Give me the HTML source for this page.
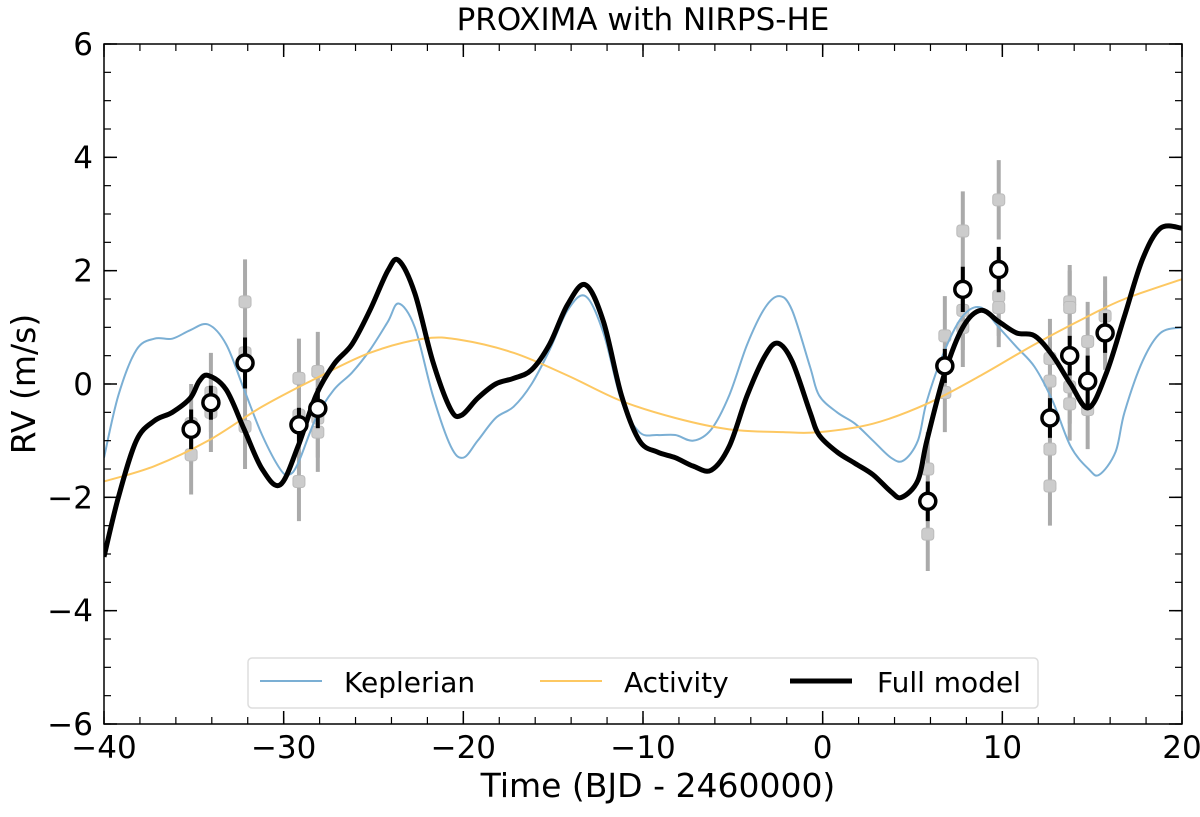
<!DOCTYPE html>
<html><head><meta charset="utf-8"><style>
body{margin:0;background:#fff}
svg text{font-family:"DejaVu Sans","Liberation Sans",sans-serif;fill:#000}
</style></head><body>
<svg id="chart" width="1200" height="812" viewBox="0 0 1200 812" xmlns="http://www.w3.org/2000/svg">
<text x="643" y="30" font-size="31" text-anchor="middle">PROXIMA with NIRPS-HE</text>
<g id="plot"></g>
<text x="658" y="797" font-size="33" text-anchor="middle">Time (BJD - 2460000)</text>
<text transform="translate(35,384) rotate(-90)" font-size="33" text-anchor="middle">RV (m/s)</text>
</svg>
<script>
const kepX=[-40,-39.2,-38.2,-37.2,-36.2,-35.2,-34.2,-33.2,-32.2,-31.2,-30.2,-29.7,-29.2,-28.2,-27.2,-26.2,-25.2,-24.2,-23.6,-22.7,-21.7,-20.7,-20,-19.2,-18.2,-17.2,-16.2,-15.2,-14.2,-13.2,-12.2,-11.2,-10.2,-9.2,-8.2,-7.2,-6.2,-5.2,-4.2,-3.2,-2.4,-1.7,-0.7,-0.2,0.8,1.8,2.8,3.8,4.5,5.3,5.8,6.8,7.8,8.8,9.8,10.8,11.8,12.8,13.8,14.8,15.4,16.3,16.8,17.8,18.8,20];
const kepY=[-1.3,-0.2,0.6,0.8,0.8,0.95,1.05,0.7,-0.1,-0.9,-1.5,-1.6,-1.4,-0.6,-0.1,0.2,0.6,1.1,1.42,1.0,-0.2,-1.1,-1.3,-1.0,-0.6,-0.4,0,0.6,1.3,1.55,0.9,-0.3,-0.85,-0.9,-0.9,-1.0,-0.8,-0.2,0.7,1.35,1.55,1.3,0.3,-0.2,-0.5,-0.7,-1.0,-1.3,-1.35,-1.0,-0.3,0.6,1.2,1.35,1.0,0.65,0.3,-0.3,-1.1,-1.5,-1.6,-1.2,-0.5,0.4,0.9,1.0];
const actX=[-40,-37.2,-34.2,-31.2,-28.2,-25.2,-22.2,-20.2,-17.2,-14.2,-11.2,-8.2,-5.2,-2.2,-0.2,2.8,5.8,8.8,11.8,14.8,16.8,20];
const actY=[-1.72,-1.45,-1.0,-0.4,0.1,0.55,0.8,0.78,0.55,0.15,-0.3,-0.6,-0.8,-0.85,-0.85,-0.7,-0.35,0.15,0.7,1.2,1.5,1.85];
const fullX=[-40,-39.2,-38.2,-37.2,-36.2,-35.2,-34.7,-34.2,-33.2,-32.2,-31.2,-30.2,-29.2,-28.2,-27.2,-26.2,-25.2,-24.2,-23.6,-22.7,-21.7,-20.7,-20.1,-19.2,-18.2,-17.2,-16.2,-15.2,-14.2,-13.2,-12.2,-11.2,-10.2,-9.2,-8.2,-7.2,-6.2,-5.2,-4.2,-3.2,-2.5,-1.7,-0.7,-0.2,0.8,1.8,2.8,3.8,4.4,5.3,5.8,6.8,7.8,8.8,9.8,10.8,11.8,12.8,13.8,14.8,15.8,16.8,17.8,18.8,20];
const fullY=[-3.05,-2.0,-1.0,-0.65,-0.5,-0.25,0.05,0.15,-0.1,-0.8,-1.5,-1.78,-1.1,-0.2,0.35,0.7,1.3,2.0,2.18,1.6,0.4,-0.45,-0.55,-0.25,0,0.1,0.25,0.7,1.4,1.75,1.1,-0.2,-1.0,-1.2,-1.3,-1.45,-1.52,-1.1,-0.2,0.5,0.72,0.4,-0.5,-0.9,-1.2,-1.4,-1.6,-1.9,-2.0,-1.7,-1.0,0.2,1.0,1.3,1.1,0.9,0.85,0.5,0.0,-0.42,0.2,1.2,2.2,2.75,2.75];
const binT=[-35.15,-34.05,-32.15,-29.15,-28.1,5.85,6.8,7.8,9.8,12.65,13.75,14.75,15.72];
const binRV=[-0.8,-0.33,0.37,-0.72,-0.43,-2.07,0.32,1.67,2.02,-0.6,0.5,0.05,0.9];
const binErr=[0.35,0.3,0.45,0.3,0.35,0.35,0.3,0.4,0.4,0.35,0.35,0.45,0.35];
const rawT=[-35.15,-35.15,-34.05,-34.05,-32.15,-32.15,-32.15,-29.15,-29.15,-29.15,-28.1,-28.1,-28.1,5.85,5.85,6.8,6.8,7.8,7.8,7.8,9.8,9.8,9.8,12.65,12.65,12.65,12.65,13.75,13.75,13.75,13.75,14.75,14.75,15.72,15.72];
const rawRV=[-0.7,-1.25,-0.15,-0.5,1.45,0.55,-0.75,0.1,-1.72,-0.55,0.22,-0.85,-0.6,-1.5,-2.65,0.85,-0.15,2.7,1.3,1.0,3.25,1.55,1.35,0.45,0.05,-1.15,-1.8,1.45,1.35,-0.05,-0.35,0.75,-0.45,1.2,0.95];
const rawErr=[0.7,0.7,0.7,0.7,0.75,0.75,0.75,0.7,0.7,0.7,0.7,0.7,0.7,0.65,0.65,0.7,0.7,0.7,0.7,0.7,0.7,0.7,0.7,0.7,0.7,0.7,0.7,0.65,0.65,0.65,0.65,0.7,0.7,0.7,0.7];
const xTicks=[-40,-30,-20,-10,0,10,20];
const yTicks=[-6,-4,-2,0,2,4,6];
const xTickLabels=["\u221240","\u221230","\u221220","\u221210","0","10","20"];
const yTickLabels=["\u22126","\u22124","\u22122","0","2","4","6"];

const L=104,R=1182,T=44,B=724;
const sx=v=>L+(v+40)/60*(R-L);
const sy=v=>B-(v+6)/12*(B-T);
const NS="http://www.w3.org/2000/svg";
const plot=document.getElementById('plot');
function mk(tag,attrs,parent){const e=document.createElementNS(NS,tag);for(const k in attrs)e.setAttribute(k,attrs[k]);(parent||plot).appendChild(e);return e;}
function smooth(xs,ys){const p=xs.map((x,i)=>[sx(x),sy(ys[i])]);let d=`M${p[0][0]},${p[0][1]}`;
for(let i=0;i<p.length-1;i++){const p0=p[Math.max(i-1,0)],p1=p[i],p2=p[i+1],p3=p[Math.min(i+2,p.length-1)];
const c1=[p1[0]+(p2[0]-p0[0])/6,p1[1]+(p2[1]-p0[1])/6],c2=[p2[0]-(p3[0]-p1[0])/6,p2[1]-(p3[1]-p1[1])/6];
d+=`C${c1[0]},${c1[1]} ${c2[0]},${c2[1]} ${p2[0]},${p2[1]}`;}return d;}
const defs=mk('defs',{});const cp=mk('clipPath',{id:'clip'},defs);mk('rect',{x:L,y:T,width:R-L,height:B-T},cp);
const g=mk('g',{'clip-path':'url(#clip)'});


rawT.forEach((t,i)=>{
 const l=mk('line',{x1:sx(t),x2:sx(t),y1:sy(rawRV[i]-rawErr[i]),y2:sy(rawRV[i]+rawErr[i]),stroke:'#aaa','stroke-width':4},g);
 
 
});
rawT.forEach((t,i)=>{
 const r=mk('rect',{x:sx(t)-6,y:sy(rawRV[i])-6,width:12,height:12,rx:3,fill:'#ccc',stroke:'#bbb','stroke-width':1},g);
 
 
});
const kp=mk('path',{d:smooth(kepX,kepY),fill:'none',stroke:'#7bafd4','stroke-width':2},g);


const ap=mk('path',{d:smooth(actX,actY),fill:'none',stroke:'#fdc862','stroke-width':2},g);


const fp=mk('path',{d:smooth(fullX,fullY),fill:'none',stroke:'#000','stroke-width':5},g);


binT.forEach((t,i)=>{
 const l=mk('line',{x1:sx(t),x2:sx(t),y1:sy(binRV[i]-binErr[i]),y2:sy(binRV[i]+binErr[i]),stroke:'#000','stroke-width':4},g);
 
 
 const c=mk('circle',{cx:sx(t),cy:sy(binRV[i]),r:8,fill:'#fff',stroke:'#000','stroke-width':3.5},g);
 
 
});
const fr=mk('rect',{x:L,y:T,width:R-L,height:B-T,fill:'none',stroke:'#000','stroke-width':1.5});


// minor ticks
for(let v=-40;v<=20;v+=2){
 mk('line',{x1:sx(v),x2:sx(v),y1:B,y2:B-7,stroke:'#000','stroke-width':1.2});
 mk('line',{x1:sx(v),x2:sx(v),y1:T,y2:T+7,stroke:'#000','stroke-width':1.2});
}
for(let v=-6;v<=6;v+=0.5){
 mk('line',{x1:L,x2:L+7,y1:sy(v),y2:sy(v),stroke:'#000','stroke-width':1.2});
 mk('line',{x1:R,x2:R-7,y1:sy(v),y2:sy(v),stroke:'#000','stroke-width':1.2});
}
xTicks.forEach((v,i)=>{
 mk('line',{x1:sx(v),x2:sx(v),y1:B,y2:B-13,stroke:'#000','stroke-width':1.5});
 mk('line',{x1:sx(v),x2:sx(v),y1:T,y2:T+13,stroke:'#000','stroke-width':1.5});
 const tx=mk('text',{x:sx(v),y:B+34,'font-size':31,'text-anchor':'middle'});tx.textContent=xTickLabels[i];
 
 
});
yTicks.forEach((v,i)=>{
 mk('line',{x1:L,x2:L+13,y1:sy(v),y2:sy(v),stroke:'#000','stroke-width':1.5});
 mk('line',{x1:R,x2:R-13,y1:sy(v),y2:sy(v),stroke:'#000','stroke-width':1.5});
 const tx=mk('text',{x:L-11,y:sy(v)+11,'font-size':31,'text-anchor':'end'});tx.textContent=yTickLabels[i];
 
 
});
const lg=mk('g',{});


mk('rect',{x:248,y:658,width:790,height:50,rx:4,fill:'#fff','fill-opacity':0.85,stroke:'#ddd','stroke-width':1.5},lg);
const items=[["Keplerian",'#7bafd4',2,260,344],["Activity",'#fdc862',2,540,624],["Full model",'#000',5,790,877]];
items.forEach(it=>{
 const e=mk('g',{},lg);
 
 
 mk('line',{x1:it[3],x2:it[3]+62,y1:681,y2:681,stroke:it[1],'stroke-width':it[2]},e);
 const t=mk('text',{x:it[4],y:692,'font-size':28},e);t.textContent=it[0];
});
</script>
</body></html>
